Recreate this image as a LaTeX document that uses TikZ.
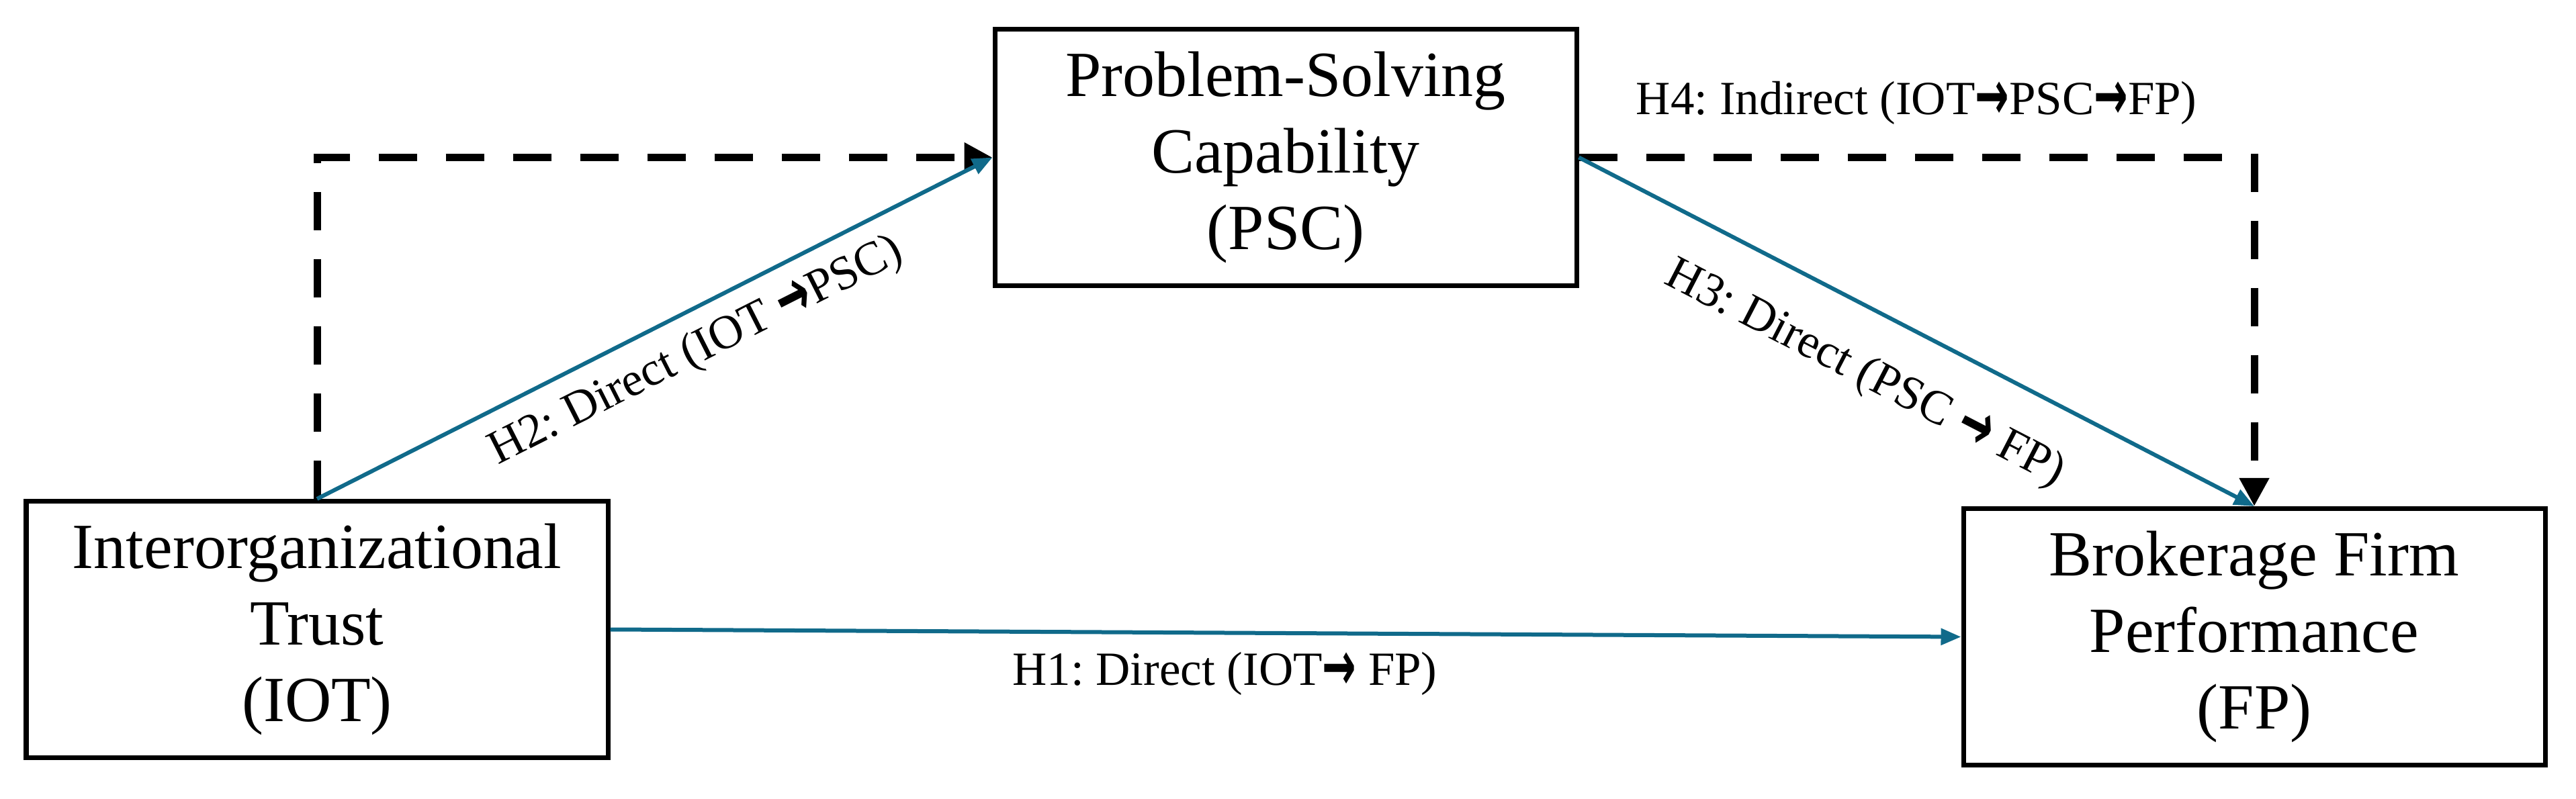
\documentclass[tikz,border=0pt]{standalone}
\usepackage{fontspec}
\setmainfont{Liberation Serif}
\newfontfamily\arrowfont{DejaVu Sans}
\usepackage{xcolor}
\usetikzlibrary{arrows.meta,positioning}
\definecolor{pathblue}{RGB}{16,106,138}
\newcommand{\hto}{\raisebox{-0.1em}{\scalebox{0.85}[1.45]{\arrowfont\bfseries →}}}
\frenchspacing

\begin{document}
\begin{tikzpicture}[
    construct/.style={rectangle, draw, line width=0.07cm, minimum width=8.66cm, minimum height=3.82cm, align=center, font=\fontsize{27.3}{32.5}\selectfont},
    direct/.style={-{Triangle[length=0.3cm,width=0.24cm]}, line width=0.06cm, draw=pathblue},
    indirect/.style={-{Triangle[length=0.42cm,width=0.42cm]}, line width=0.11cm, dash pattern=on 0.57cm off 0.43cm},
    hyp/.style={font=\fontsize{20.2}{24}\selectfont, text=black}
]
\useasboundingbox (0,0) rectangle (38.35,-11.90);
\node[construct] (iot) at (4.72,-9.375) {Interorganizational\\Trust\\(IOT)};
\node[construct, above right=3.14cm and 5.69cm of iot] (psc) {Problem-Solving\\Capability\\(PSC)};
\node[construct, right=20.11cm of iot, yshift=-0.11cm] (fp) {Brokerage Firm\\Performance\\(FP)};

\draw[indirect] (iot.north) |- (psc.west);
\draw[indirect] (psc.east) -| node[hyp, above=9pt, pos=0.25] {H4: Indirect (IOT\hto PSC\hto FP)} (fp.north);

\draw[direct] (iot.north) -- node[hyp, sloped, below=0.13cm, pos=0.535] {H2: Direct (IOT \hto PSC)} (psc.west);
\draw[direct] (psc.east) -- node[hyp, sloped, below=0.45cm, pos=0.465] {H3: Direct (PSC \hto{} FP)} (fp.north);
\draw[direct] (iot.east) -- node[hyp, below=4pt, pos=0.455] {H1: Direct (IOT\hto{} FP)} (fp.west);
\end{tikzpicture}
\end{document}
